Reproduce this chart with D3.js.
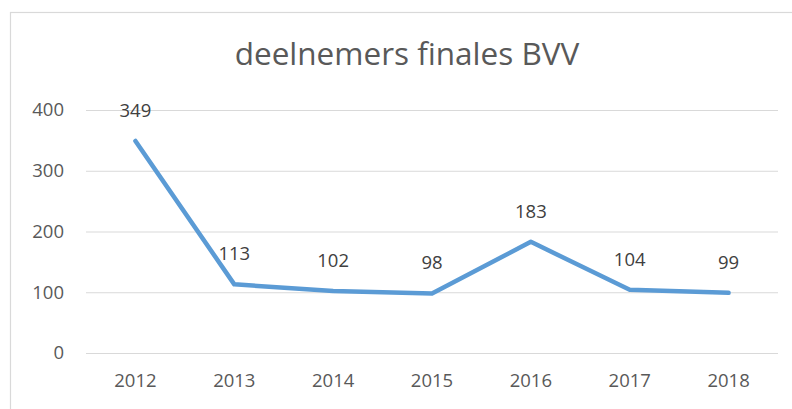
<!DOCTYPE html>
<html>
<head>
<meta charset="utf-8">
<script src="https://cdn.jsdelivr.net/npm/d3@7"></script>
<style>
  body { margin: 0; background: #fff; }
  text { font-family: "Open Sans", sans-serif; }
</style>
</head>
<body>
<svg class="chart" width="792" height="409"></svg>
<script>
var years = ["2012", "2013", "2014", "2015", "2016", "2017", "2018"];
var deelnemers = [349, 113, 102, 98, 183, 104, 99];
var yTicks = [0, 100, 200, 300, 400];
var title = "deelnemers finales BVV";

var svg = d3.select("svg.chart"),
    margin = {top: 110, right: 14, bottom: 56, left: 86},
    width = 792 - margin.left - margin.right,
    height = 409 - margin.top - margin.bottom;

// chart border (runs off the right and bottom edges)
svg.append("rect")
    .attr("x", 10.5)
    .attr("y", 12.5)
    .attr("width", 810)
    .attr("height", 420)
    .style("fill", "#fff")
    .style("stroke", "#d9d9d9")
    .style("stroke-width", 1.2);

svg.append("text")
    .attr("x", 407)
    .attr("y", 65)
    .attr("text-anchor", "middle")
    .style("font-size", "31.5px")
    .style("fill", "#595959")
    .text(title);

var g = svg.append("g").attr("transform", "translate(" + margin.left + "," + margin.top + ")");

var x = d3.scaleBand().domain(years).range([0, width]),
    y = d3.scaleLinear().domain([0, 400]).range([height, 0]);

// gridlines + y labels
var yAxis = g.append("g")
    .call(d3.axisLeft(y).tickValues(yTicks).tickSize(-width).tickPadding(22));
yAxis.select(".domain").remove();
yAxis.selectAll(".tick line").style("stroke", "#d9d9d9").style("stroke-width", 1.2);
yAxis.selectAll(".tick text")
    .style("font-size", "18.5px")
    .style("fill", "#595959")
    .style("font-family", "'Open Sans', sans-serif");

var xAxis = g.append("g")
    .attr("transform", "translate(0," + height + ")")
    .call(d3.axisBottom(x).tickSize(0).tickPadding(21));
xAxis.select(".domain").remove();
xAxis.selectAll(".tick text")
    .style("font-size", "18.5px")
    .style("fill", "#595959")
    .style("font-family", "'Open Sans', sans-serif");

var line = d3.line()
    .x(function(d, i) { return x(years[i]) + x.bandwidth() / 2; })
    .y(function(d) { return y(d); });

g.append("path")
    .datum(deelnemers)
    .attr("d", line)
    .style("fill", "none")
    .style("stroke", "#5b9bd5")
    .style("stroke-width", 4.5)
    .style("stroke-linecap", "round")
    .style("stroke-linejoin", "round");

g.selectAll(".label")
    .data(deelnemers)
    .enter()
    .append("text")
    .attr("class", "label")
    .attr("x", function(d, i) { return x(years[i]) + x.bandwidth() / 2; })
    .attr("y", function(d) { return y(d) - 24; })
    .attr("text-anchor", "middle")
    .style("font-size", "18.5px")
    .style("fill", "#404040")
    .text(function(d) { return d; });
</script>
</body>
</html>
